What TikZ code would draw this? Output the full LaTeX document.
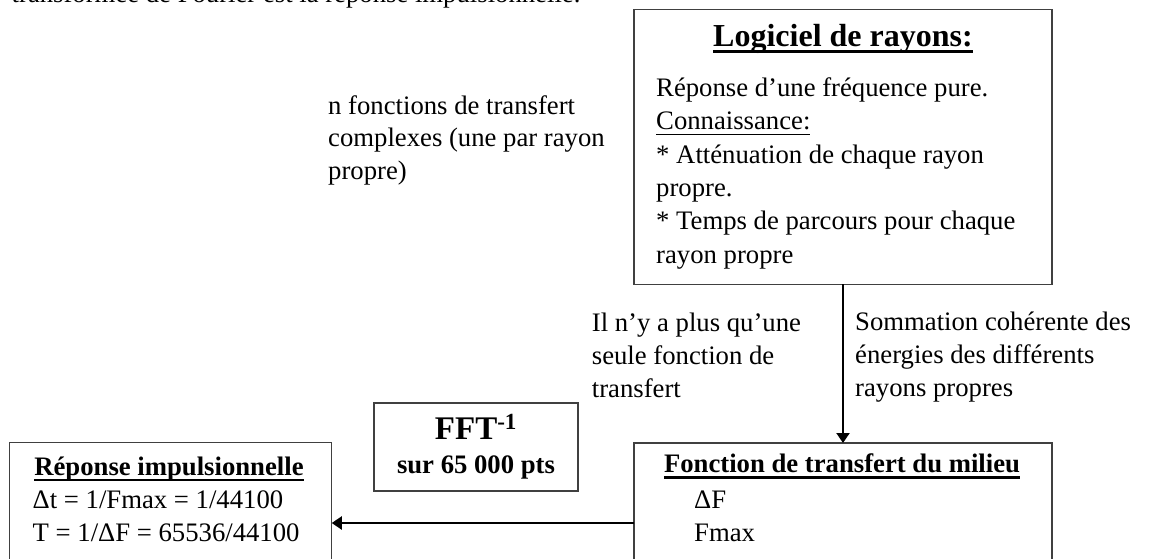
\documentclass[tikz,border=0pt]{standalone}
\usepackage{fontspec}
\setmainfont{Liberation Serif}
\usetikzlibrary{arrows.meta}
\newsavebox{\mybx}
\newcommand{\myuline}[3]{\sbox{\mybx}{#3}\rlap{\rule[-#2]{\wd\mybx}{#1}}\usebox{\mybx}}
\begin{document}
\begin{tikzpicture}[x=1pt,y=-1pt,
  box/.style={draw=black!75, line width=1.2pt, inner sep=0pt, outer sep=0pt, rectangle},
  arr/.style={draw=black, line width=2pt, -{Triangle[length=10pt,width=13pt]}},
  txt/.style={inner sep=0pt, anchor=base west, font=\fontsize{26.7}{33.3}\selectfont},
  ttl/.style={inner sep=0pt, anchor=base, font=\fontsize{26.7}{33.3}\selectfont\bfseries},
  bigttl/.style={inner sep=0pt, anchor=base, font=\fontsize{32}{38}\selectfont\bfseries}]
\useasboundingbox (0,0) rectangle (1149,558);
\clip (0,0) rectangle (1149,558);
% boxes
\node[box, minimum width=418pt, minimum height=274.5pt] (logi) at (843,147) {};
\node[box, minimum width=418pt, minimum height=120pt] (fonc) at (843,503) {};
\node[box, minimum width=322.5pt, minimum height=120pt] (impu) at (170.5,502.5) {};
\node[box, minimum width=204pt, minimum height=88pt] (fftb) at (476,447) {};
% connectors
\coordinate (hy) at (0,523);
\draw[arr] (logi.south) -- (fonc.north);
\draw[arr] (fonc.west |- hy) -- (impu.east |- hy);
% top cut text
\node[txt] (toptxt) at (11.5,2.5) {transformée de Fourier est la réponse impulsionnelle.};
% Logiciel box
\node[bigttl] (logittl) at (843,46) {\myuline{2.8pt}{6.5pt}{Logiciel de rayons:}};
\node[txt] (l1) at (656,96.5) {Réponse d’une fréquence pure.};
\node[txt] (l2) at (656,129.8) {\myuline{1.4pt}{5.5pt}{Connaissance:}};
\node[txt] (l3) at (656,163.1) {* Atténuation de chaque rayon};
\node[txt] (l4) at (656,196.4) {propre.};
\node[txt] (l5) at (656,229.7) {* Temps de parcours pour chaque};
\node[txt] (l6) at (656,263) {rayon propre};
% side labels
\node[txt] (n1) at (328,114) {n fonctions de transfert};
\node[txt] (n2) at (328,146.5) {complexes (une par rayon};
\node[txt] (n3) at (328,179) {propre)};
\node[txt] (il1) at (591.7,331.5) {Il n’y a plus qu’une};
\node[txt] (il2) at (591.7,364.5) {seule fonction de};
\node[txt] (il3) at (591.7,397.5) {transfert};
\node[txt] (so1) at (855,330.5) {Sommation cohérente des};
\node[txt] (so2) at (855,363.5) {énergies des différents};
\node[txt] (so3) at (855,396.5) {rayons propres};
% FFT box
\node[bigttl, font=\fontsize{33}{40}\selectfont\bfseries] (fft1) at (476,439) {FFT\textsuperscript{-1}};
\node[ttl] (fft2) at (476,473) {sur 65 000 pts};
% impulse box
\node[ttl] (imttl) at (169,475) {\myuline{2.5pt}{6pt}{Réponse impulsionnelle}};
\node[txt] (im1) at (32.5,508.3) {Δt = 1/Fmax = 1/44100};
\node[txt] (im2) at (32.5,541) {T = 1/ΔF = 65536/44100};
% transfer box
\node[ttl] (fottl) at (842,472.7) {\myuline{2.5pt}{6pt}{Fonction de transfert du milieu}};
\node[txt] (fo1) at (694,508.3) {ΔF};
\node[txt] (fo2) at (694,541.5) {Fmax};
\end{tikzpicture}
\end{document}
